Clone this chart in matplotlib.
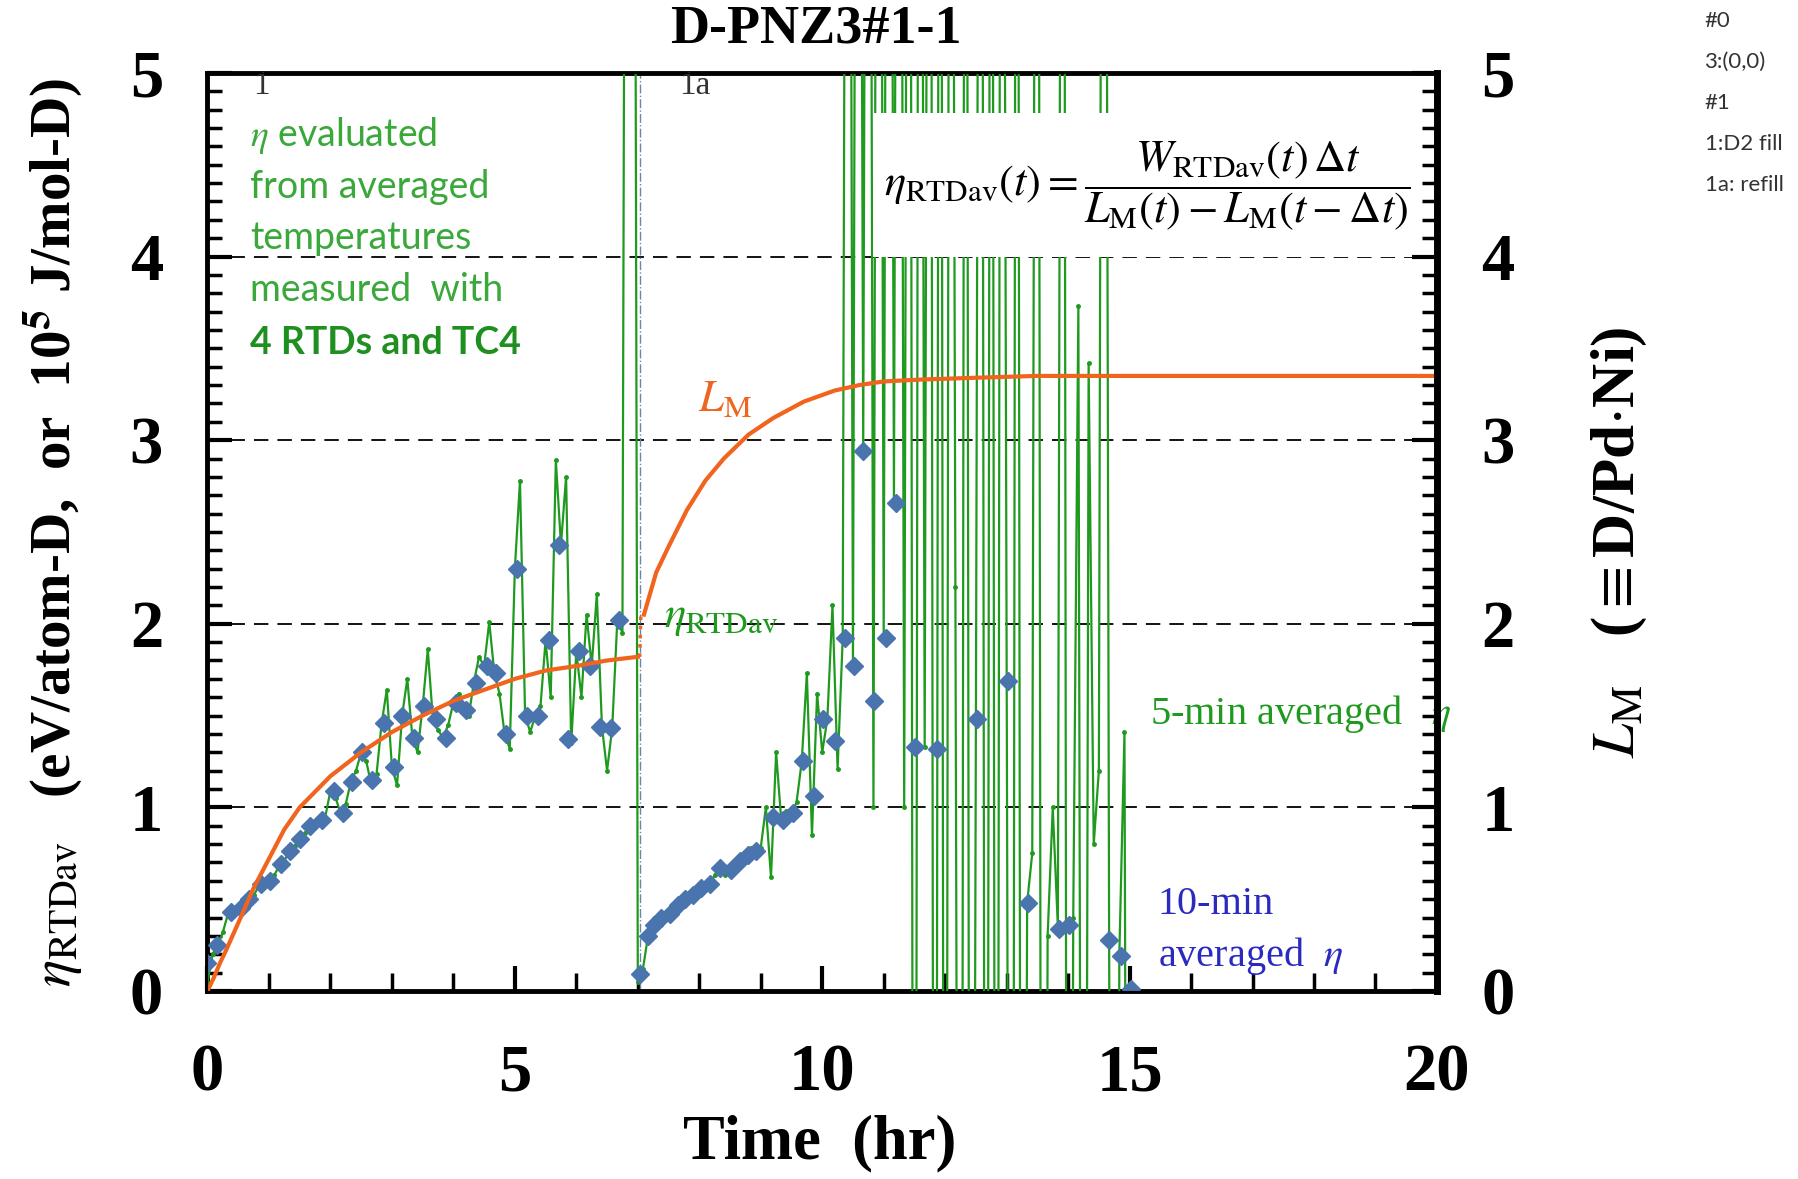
import numpy as np
import matplotlib
matplotlib.use("Agg")
import matplotlib.pyplot as plt
from matplotlib.patches import Rectangle
from matplotlib.ticker import MultipleLocator

plt.rcParams["mathtext.fontset"] = "stix"
plt.rcParams["font.family"] = ["Liberation Serif", "DejaVu Serif"]

# 5-min averaged eta, one value every 5 min starting at t = 0 hr
eta5 = [
    0.05, 0.20, 0.25, 0.32, 0.42, 0.44, 0.45, 0.47, 0.50, 0.52, 0.57, 0.59,
    0.60, 0.63, 0.68, 0.71, 0.76, 0.79, 0.83, 0.86, 0.90, 0.92, 0.93, 0.95,
    1.09, 1.05, 0.97, 1.02, 1.14, 1.20, 1.30, 1.25, 1.12, 1.18, 1.46, 1.64,
    1.22, 1.12, 1.50, 1.70, 1.38, 1.30, 1.55, 1.86, 1.48, 1.42, 1.38, 1.45,
    1.57, 1.62, 1.53, 1.50, 1.68, 1.82, 1.77, 2.01, 1.73, 1.62, 1.40, 1.32,
    2.30, 2.78, 1.50, 1.41, 1.50, 1.55, 1.91, 1.60, 2.89, 2.43, 2.80, 1.35,
    1.85, 1.60, 2.05, 1.77, 2.16, 1.44, 1.20, 1.43, 2.02, 1.95, 12.0, 12.0,
    0.05, 0.12, 0.30, 0.34, 0.38, 0.40, 0.42, 0.45, 0.47, 0.49, 0.51, 0.53,
    0.55, 0.57, 0.58, 0.63, 0.68, 0.63, 0.66, 0.70, 0.72, 0.73, 0.78, 0.74,
    0.78, 1.00, 0.62, 1.30, 0.93, 0.98, 0.96, 1.03, 1.25, 1.73, 0.85, 1.62,
    1.30, 1.48, 2.10, 1.21, 1.92, 12.0, 1.77, 12.0, 2.94, 12.0, 1.00, 12.0,
    1.92, 12.0, 2.66, 12.0, 1.00, 12.0, -8.0, 12.0, 1.33, 12.0, -8.0, 12.0,
    -8.0, 12.0, 2.20, -8.0, 12.0, -8.0, 1.48, 12.0, -8.0, 12.0, -8.0, 12.0,
    1.69, -8.0, 12.0, -8.0, 0.48, 0.75, 12.0, -8.0, 0.30, 1.00, 0.35, 12.0,
    -8.0, 0.40, 3.73, -8.0, 3.42, 0.80, 1.20, 12.0, 0.30, -8.0, 0.20, 1.41,
    -8.0, 0.00,
]
t5 = np.arange(len(eta5)) / 12.0

# 10-min averaged eta (points inside the plotted range)
t10 = [
    0.00, 0.16, 0.38, 0.55, 0.68, 0.87, 1.01, 1.20, 1.34, 1.50, 1.67, 1.86,
    2.05, 2.21, 2.35, 2.51, 2.68, 2.87, 3.03, 3.17, 3.36, 3.52, 3.72, 3.88,
    4.04, 4.21, 4.37, 4.54, 4.70, 4.86, 5.03, 5.19, 5.38, 5.55, 5.71, 5.87,
    6.04, 6.23, 6.39, 6.56, 6.69, 7.03,
    7.16, 7.27, 7.38, 7.52, 7.65, 7.76, 7.90, 8.03, 8.17, 8.33, 8.52, 8.66,
    8.80, 8.93, 9.20, 9.37, 9.53, 9.69, 9.86, 10.02, 10.21, 10.37, 10.52,
    10.67, 10.85, 11.04, 11.20, 11.51, 11.87, 12.51, 13.03, 13.35, 13.85,
    14.01, 14.67, 14.86, 15.03,
]
eta10 = [
    0.15, 0.25, 0.43, 0.45, 0.50, 0.58, 0.60, 0.69, 0.76, 0.83, 0.90, 0.93,
    1.09, 0.97, 1.14, 1.30, 1.15, 1.46, 1.22, 1.50, 1.38, 1.55, 1.48, 1.38,
    1.57, 1.53, 1.68, 1.77, 1.73, 1.40, 2.30, 1.50, 1.50, 1.91, 2.43, 1.37,
    1.85, 1.77, 1.44, 1.43, 2.02, 0.09,
    0.30, 0.36, 0.40, 0.42, 0.47, 0.50, 0.52, 0.56, 0.58, 0.67, 0.66, 0.71,
    0.74, 0.76, 0.95, 0.93, 0.97, 1.25, 1.06, 1.48, 1.36, 1.92, 1.77,
    2.94, 1.58, 1.92, 2.66, 1.33, 1.32, 1.48, 1.69, 0.48, 0.34,
    0.36, 0.28, 0.19, 0.01,
]

# loading ratio L_M (D/Pd.Ni): first fill and refill
lm_t1 = [0.0, 0.1, 0.2, 0.3, 0.5, 0.75, 1.0, 1.25, 1.5, 2.0, 2.5, 3.0, 3.5,
         4.0, 4.5, 5.0, 5.5, 6.0, 6.5, 7.0]
lm_1 = [0.0, 0.07, 0.15, 0.22, 0.37, 0.56, 0.72, 0.88, 1.00, 1.17, 1.30, 1.41,
        1.50, 1.58, 1.64, 1.70, 1.745, 1.77, 1.80, 1.82]
lm_t2 = [7.1, 7.3, 7.5, 7.8, 8.1, 8.4, 8.8, 9.2, 9.7, 10.2, 10.6, 11.0, 11.6,
         12.5, 13.5, 15.0, 17.0, 20.0]
lm_2 = [2.05, 2.28, 2.42, 2.62, 2.78, 2.90, 3.03, 3.12, 3.21, 3.27, 3.30, 3.32,
        3.33, 3.34, 3.35, 3.35, 3.35, 3.35]

green = "#1f9a1f"
blue = "#4a74ae"
orange = "#f0641e"

fig = plt.figure(figsize=(17.98, 11.79), dpi=100)
ax = fig.add_axes([0.1154, 0.1595, 0.6838, 0.7786])
ax.set_xlim(0, 20)
ax.set_ylim(0, 5)

for y in [1, 2, 3, 4]:
    ax.axhline(y, color="black", lw=1.3, ls=(0, (8, 5)), zorder=1)
ax.axvline(7.03, color="#6a86a8", lw=1.0, ls="-.", zorder=2)

ax.plot(t5, eta5, color=green, lw=1.6, marker="o", ms=2.5, zorder=3)
ax.plot(t10, eta10, ls="none", marker="D", ms=9, color=blue, zorder=4)
ax.plot(lm_t1, lm_1, color=orange, lw=3, zorder=4)
ax.plot([lm_t1[-1] + 0.03, lm_t2[0] - 0.05], [lm_1[-1], lm_2[0]],
        color=orange, lw=2.5, ls=":", zorder=4)
ax.plot(lm_t2, lm_2, color=orange, lw=3, zorder=4)

# formula with white box covering the traces
ax.add_patch(Rectangle((10.82, 4.0), 8.9, 0.78, facecolor="white",
                       edgecolor="none", zorder=5))
ax.text(15.28, 4.38,
        r"$\eta_{\mathrm{RTDav}}(t) = \dfrac{W_{\mathrm{RTDav}}(t)\,\Delta t}"
        r"{L_{\mathrm{M}}(t) - L_{\mathrm{M}}(t-\Delta t)}$",
        fontsize=32, ha="center", va="center", zorder=6)

# annotations inside the axes
ax.text(0.87, 4.93, "1", fontsize=24, color="#333333", ha="center", va="center")
ax.text(7.93, 4.93, "1a", fontsize=24, color="#333333", ha="center", va="center")
info = [r"$\eta$ evaluated", "from averaged", "temperatures", "measured  with"]
for i, line in enumerate(info):
    ax.text(0.69, 4.66 - 0.28 * i, line, family="Lato", fontsize=27,
            color="#3aa83a", ha="left", va="center")
ax.text(0.69, 3.53, "4 RTDs and TC4", family="Lato", fontsize=27,
        fontweight="bold", color="#1f8f1f", ha="left", va="center")

ax.text(8.41, 3.22, r"$L_{\mathrm{M}}$", fontsize=32, color=orange,
        ha="center", va="center")
ax.text(8.35, 2.03, r"$\eta_{\mathrm{RTDav}}$", fontsize=32, color=green,
        ha="center", va="center")
ax.text(15.33, 1.51, r"5-min averaged   $\eta$", fontsize=29, color=green,
        ha="left", va="center", clip_on=False)
ax.text(15.46, 0.47, "10-min", fontsize=29, color="#2a2ac0",
        ha="left", va="center")
ax.text(15.46, 0.19, r"averaged  $\eta$", fontsize=29, color="#2a2ac0",
        ha="left", va="center")

# axes styling
for side in ["left", "right", "top", "bottom"]:
    ax.spines[side].set_linewidth(3.5)
ax.xaxis.set_major_locator(MultipleLocator(5))
ax.xaxis.set_minor_locator(MultipleLocator(1))
ax.yaxis.set_major_locator(MultipleLocator(1))
ax.yaxis.set_minor_locator(MultipleLocator(0.1))
ax.tick_params(which="both", direction="in", top=False, right=False)
ax.tick_params(axis="x", which="major", length=18, width=3, pad=38,
               labelsize=48)
ax.tick_params(axis="x", which="minor", length=13, width=2.5)
ax.tick_params(axis="y", which="major", length=18, width=3, pad=32,
               labelsize=48)
ax.tick_params(axis="y", which="minor", length=11, width=2.5)

ax2 = ax.twinx()
ax2.set_ylim(0, 5)
ax2.yaxis.set_major_locator(MultipleLocator(1))
ax2.yaxis.set_minor_locator(MultipleLocator(0.1))
ax2.tick_params(which="both", direction="in")
ax2.tick_params(axis="y", which="major", length=18, width=3, pad=32,
                labelsize=48)
ax2.tick_params(axis="y", which="minor", length=11, width=2.5)
ax2.spines["right"].set_linewidth(5)

for lbl in ax.get_xticklabels() + ax.get_yticklabels() + ax2.get_yticklabels():
    lbl.set_fontweight("bold")

fig.text(0.454, 0.975, "D-PNZ3#1-1", fontsize=39, fontweight="bold",
         ha="center", va="center")
fig.text(0.456, 0.0305, "Time  (hr)", fontsize=45, fontweight="bold",
         ha="center", va="center")
fig.text(0.029, 0.548,
         r"$\eta_{\mathrm{RTDav}}$   (eV/atom-D,  or  10$^{\mathbf{5}}$ J/mol-D)",
         fontsize=41, fontweight="bold", rotation=90, ha="center", va="center")
fig.text(0.9005, 0.540, r"$L_{\mathrm{M}}$   ($\equiv$D/Pd$\cdot$Ni)",
         fontsize=44, fontweight="bold", rotation=90, ha="center", va="center")

notes = ["#0", "3:(0,0)", "#1", "1:D2 fill", "1a: refill"]
for i, note in enumerate(notes):
    fig.text(0.948, 0.982 - 0.0348 * i, note, family="Lato", fontsize=16,
             color="#333333", ha="left", va="center")

fig.savefig("out.png", dpi=100)
